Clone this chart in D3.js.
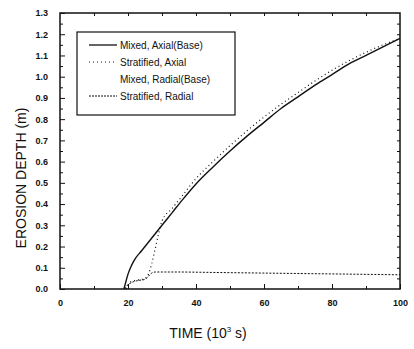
<!DOCTYPE html>
<html>
<head>
<meta charset="utf-8">
<script src="https://cdn.jsdelivr.net/npm/d3@7"></script>
<style>
  body { margin: 0; background: #fff; }
  text { font-family: "Liberation Sans", Arial, sans-serif; fill: #111; }
</style>
</head>
<body>
<svg id="chart"></svg>
<script>
// series (time in 10^3 s, depth in m)
const mixedAxialT = [18.8, 19.3, 20, 21, 22, 24, 26, 28, 30, 33, 36, 40, 45, 50, 55, 60, 65, 70, 75, 80, 85, 90, 95, 100];
const mixedAxialV = [0, 0.03, 0.07, 0.11, 0.14, 0.18, 0.22, 0.26, 0.30, 0.36, 0.42, 0.495, 0.575, 0.65, 0.72, 0.785, 0.85, 0.905, 0.96, 1.01, 1.06, 1.10, 1.14, 1.18];

const stratAxialT = [19.5, 20.5, 22, 24, 25, 26, 27, 28, 29, 30, 33, 36, 40, 45, 50, 55, 60, 65, 70, 75, 80, 85, 90, 95, 100];
const stratAxialV = [0, 0.03, 0.04, 0.045, 0.05, 0.07, 0.12, 0.19, 0.26, 0.32, 0.38, 0.44, 0.52, 0.60, 0.675, 0.745, 0.81, 0.87, 0.925, 0.98, 1.03, 1.075, 1.115, 1.15, 1.18];

const stratRadialT = [19, 20, 21, 23, 25, 26, 27, 28, 35, 45, 55, 65, 75, 85, 95, 100];
const stratRadialV = [0, 0.02, 0.03, 0.04, 0.045, 0.06, 0.075, 0.08, 0.08, 0.078, 0.076, 0.074, 0.072, 0.07, 0.068, 0.067];

const legendLabels = ["Mixed, Axial(Base)", "Stratified, Axial", "Mixed, Radial(Base)", "Stratified, Radial"];
const xTicks = [0, 20, 40, 60, 80, 100];
const yTicks = [0, 0.1, 0.2, 0.3, 0.4, 0.5, 0.6, 0.7, 0.8, 0.9, 1.0, 1.1, 1.2, 1.3];

const margin = { top: 13, right: 14, bottom: 60, left: 60 },
	width = 414 - margin.left - margin.right,
	height = 349 - margin.top - margin.bottom;

const svg = d3.select("#chart")
	.attr("width", 414)
	.attr("height", 349)
	.append("g")
	.attr("transform", `translate(${margin.left}, ${margin.top})`);

const x = d3.scaleLinear().domain([0, 100]).range([0, width]);
const y = d3.scaleLinear().domain([0, 1.3]).range([height, 0]);

// frame
svg.append("rect")
	.attr("width", width)
	.attr("height", height)
	.attr("fill", "none")
	.attr("stroke", "#111")
	.attr("stroke-width", 1.5);

// bottom axis, ticks pointing inward
const xAxis = svg.append("g")
	.attr("transform", `translate(0, ${height})`)
	.call(d3.axisBottom(x).tickValues(xTicks).tickSize(-5).tickPadding(11).tickFormat(d3.format("d")));
xAxis.select(".domain").remove();
xAxis.selectAll("text").style("font-size", "9px").style("font-weight", "bold");

svg.append("g")
	.attr("transform", `translate(0, ${height})`)
	.call(d3.axisBottom(x).tickValues(d3.range(10, 100, 20)).tickSize(-3).tickFormat(""))
	.select(".domain").remove();

// top mirror ticks
svg.append("g")
	.call(d3.axisTop(x).tickValues(d3.range(10, 100, 10)).tickSize(-3).tickFormat(""))
	.select(".domain").remove();

// left axis
const yAxis = svg.append("g")
	.call(d3.axisLeft(y).tickValues(yTicks).tickSize(-5).tickPadding(12).tickFormat(d3.format(".1f")));
yAxis.select(".domain").remove();
yAxis.selectAll("text").style("font-size", "9px").style("font-weight", "bold");

svg.append("g")
	.call(d3.axisLeft(y).tickValues(d3.range(0.05, 1.3, 0.1)).tickSize(-3).tickFormat(""))
	.select(".domain").remove();

// right mirror ticks
svg.append("g")
	.attr("transform", `translate(${width}, 0)`)
	.call(d3.axisRight(y).tickValues(d3.range(0.05, 1.3, 0.05)).tickSize(-3).tickFormat(""))
	.select(".domain").remove();

svg.selectAll(".tick line").attr("stroke", "#111");

// axis titles
svg.append("text")
	.attr("text-anchor", "middle")
	.attr("x", width / 2 - 22)
	.attr("y", height + 49)
	.style("font-size", "14px")
	.html('TIME (10<tspan dy="-6" font-size="8px">3</tspan><tspan dy="6"> s)</tspan>');

svg.append("text")
	.attr("text-anchor", "middle")
	.attr("transform", "rotate(-90)")
	.attr("x", -165)
	.attr("y", -margin.left + 26)
	.style("font-size", "14px")
	.text("EROSION DEPTH (m)");

// curves
const line = d3.line()
	.x(d => x(d[0]))
	.y(d => y(d[1]))
	.curve(d3.curveMonotoneX);

const series = [
	{ t: mixedAxialT, v: mixedAxialV, dash: null, w: 1.4 },
	{ t: stratAxialT, v: stratAxialV, dash: "1,3", w: 1.2 },
	{ t: stratRadialT, v: stratRadialV, dash: "2,1.5", w: 1 }
];

series.forEach(s => {
	svg.append("path")
		.datum(d3.zip(s.t, s.v))
		.attr("fill", "none")
		.attr("stroke", "#111")
		.attr("stroke-width", s.w)
		.attr("stroke-dasharray", s.dash)
		.attr("d", line);
});

// legend
const legend = svg.append("g").attr("transform", "translate(17, 19)");
legend.append("rect")
	.attr("width", 158)
	.attr("height", 83)
	.attr("fill", "#fff")
	.attr("stroke", "#111")
	.attr("stroke-width", 1.2);

const legendStyle = [
	{ dash: null, w: 1.3, show: true },
	{ dash: "1,3", w: 1.2, show: true },
	{ dash: null, w: 1, show: false },
	{ dash: "2,1", w: 1, show: true }
];

legendLabels.forEach((label, i) => {
	const ly = 13 + i * 17;
	if (legendStyle[i].show) {
		legend.append("line")
			.attr("x1", 12).attr("x2", 40)
			.attr("y1", ly).attr("y2", ly)
			.attr("stroke", "#111")
			.attr("stroke-width", legendStyle[i].w)
			.attr("stroke-dasharray", legendStyle[i].dash);
	}
	legend.append("text")
		.attr("x", 43)
		.attr("y", ly + 3.5)
		.style("font-size", "10px")
		.text(label);
});
</script>
</body>
</html>
